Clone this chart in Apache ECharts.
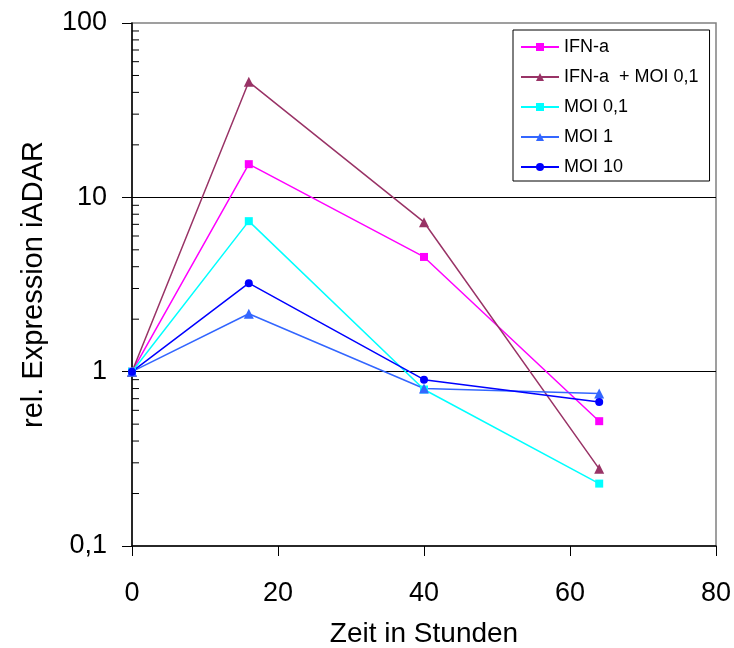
<!DOCTYPE html>
<html>
  <head>
    <meta charset="utf-8" />
    <script src="https://cdn.jsdelivr.net/npm/echarts@6.0.0/dist/echarts.min.js"></script>
    <style>
      html, body { margin: 0; padding: 0; background: #fff; }
    </style>
  </head>
  <body>
    <div id="main" style="width: 734px; height: 648px"></div>

    <script type="text/javascript">
      // hours after treatment
      var hours = [0, 16, 40, 64];

      // relative iADAR expression per condition
      var ifnA = [1, 15.5, 4.55, 0.52];
      var ifnAMoi01 = [1, 46, 7.2, 0.277];
      var moi01 = [1, 7.3, 0.79, 0.228];
      var moi1 = [1, 2.15, 0.8, 0.75];
      var moi10 = [1, 3.22, 0.9, 0.67];

      var seriesNames = ["IFN-a", "IFN-a  + MOI 0,1", "MOI 0,1", "MOI 1", "MOI 10"];

      // minor tick values on the log axis (2..9 per decade)
      var minorTicks = [0.2, 0.3, 0.4, 0.5, 0.6, 0.7, 0.8, 0.9,
                        2, 3, 4, 5, 6, 7, 8, 9,
                        20, 30, 40, 50, 60, 70, 80, 90];

      var font = "Liberation Sans, Arial, sans-serif";

      function pairs(ys) {
        return hours.map(function (h, i) { return [h, ys[i]]; });
      }

      function lineSeries(name, ys, color, symbol, size) {
        return {
          name: name,
          type: "line",
          data: pairs(ys),
          symbol: symbol,
          symbolSize: size,
          showAllSymbol: true,
          lineStyle: { color: color, width: 1.5 },
          itemStyle: { color: color },
          z: 3
        };
      }

      var myChart = echarts.init(document.getElementById("main"));

      var option = {
        animation: false,
        backgroundColor: "#fff",
        grid: {
          left: 132,
          right: 18,
          top: 23,
          bottom: 102,
          outerBoundsMode: "none",
          show: true,
          borderColor: "#808080",
          borderWidth: 1.5
        },
        legend: {
          data: seriesNames,
          orient: "vertical",
          left: 513,
          top: 30,
          padding: [7, 11, 4, 7],
          itemWidth: 38,
          itemHeight: 10,
          itemGap: 10,
          backgroundColor: "#fff",
          borderColor: "#000",
          borderWidth: 1,
          borderRadius: 0,
          textStyle: { fontFamily: font, fontSize: 18, color: "#000", lineHeight: 20 }
        },
        xAxis: {
          type: "value",
          min: 0,
          max: 80,
          interval: 20,
          name: "Zeit in Stunden",
          nameLocation: "middle",
          nameGap: 74,
          nameTextStyle: { fontFamily: font, fontSize: 28, color: "#000" },
          axisLine: { lineStyle: { color: "#000", width: 1.5 } },
          axisTick: { show: true, inside: false, length: 10, lineStyle: { color: "#000" } },
          axisLabel: { margin: 34, fontFamily: font, fontSize: 27, color: "#000" },
          splitLine: { show: false }
        },
        yAxis: {
          type: "log",
          logBase: 10,
          min: 0.1,
          max: 100,
          name: "rel. Expression iADAR",
          nameLocation: "middle",
          nameGap: 84,
          nameTextStyle: { fontFamily: font, fontSize: 29, color: "#000" },
          axisLine: { show: true, lineStyle: { color: "#000", width: 1.5 } },
          axisTick: { show: true, inside: false, length: 10, lineStyle: { color: "#000" } },
          axisLabel: {
            margin: 25,
            fontFamily: font,
            fontSize: 27,
            color: "#000",
            formatter: function (v) { return String(v).replace(".", ","); }
          },
          splitLine: {
            show: true,
            showMinLine: false,
            showMaxLine: false,
            lineStyle: { color: "#000", width: 1 }
          }
        },
        series: [
          lineSeries(seriesNames[0], ifnA, "#FF00FF", "rect", 8),
          lineSeries(seriesNames[1], ifnAMoi01, "#993366", "triangle", 10),
          lineSeries(seriesNames[2], moi01, "#00FFFF", "rect", 8),
          lineSeries(seriesNames[3], moi1, "#3366FF", "triangle", 10),
          lineSeries(seriesNames[4], moi10, "#0000FF", "circle", 8),
          {
            type: "custom",
            silent: true,
            clip: false,
            z: 2,
            data: minorTicks.map(function (v) { return [0, v]; }),
            renderItem: function (params, api) {
              var p = api.coord([api.value(0), api.value(1)]);
              return {
                type: "line",
                shape: { x1: p[0], y1: p[1], x2: p[0] + 7, y2: p[1] },
                style: { stroke: "#000", lineWidth: 1 }
              };
            }
          }
        ]
      };

      myChart.setOption(option);
    </script>
  </body>
</html>
